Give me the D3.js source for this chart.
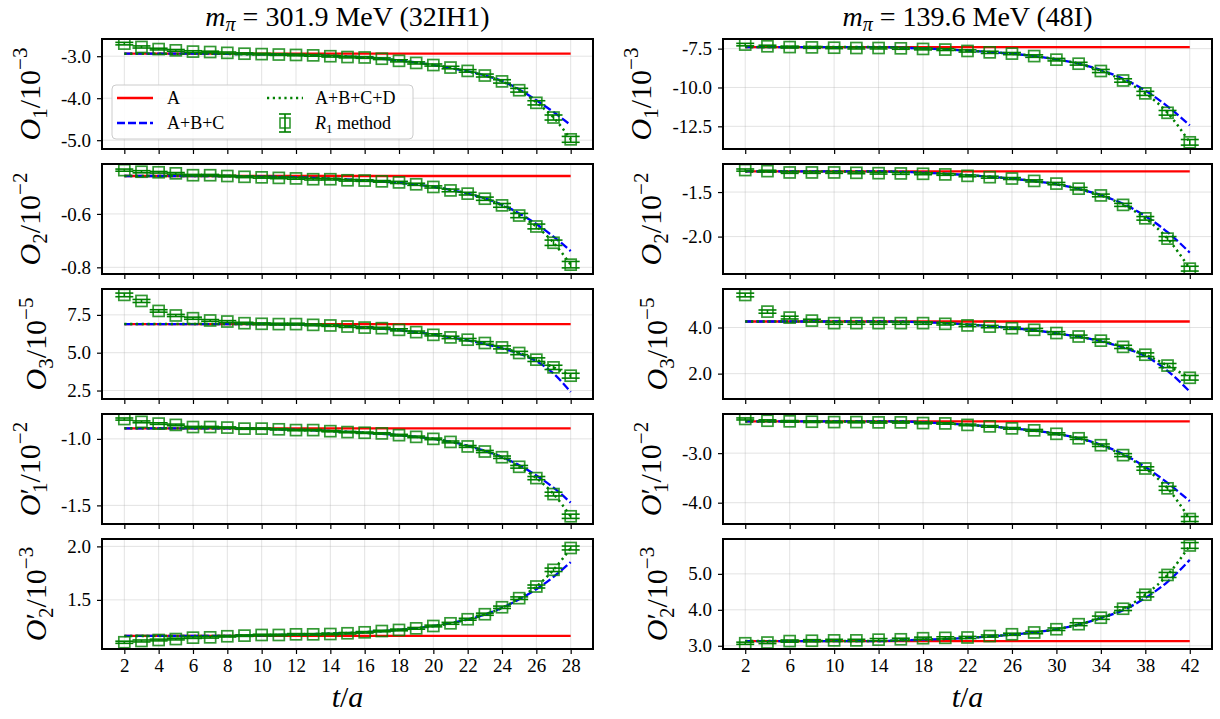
<!DOCTYPE html>
<html>
<head>
<meta charset="utf-8">
<script src="https://cdn.jsdelivr.net/npm/d3@7"></script>
<style>
  body { margin: 0; background: #fff; }
  svg { display: block; }
  text { font-family: "Liberation Serif", "Tinos", "Noto Serif", "DejaVu Serif", "FreeSerif", "Times New Roman", serif; fill: #000; }
</style>
</head>
<body>
<svg id="chart" width="1220" height="719"></svg>
<script>
// ---------- time slices ----------
const tLeft  = [2,3,4,5,6,7,8,9,10,11,12,13,14,15,16,17,18,19,20,21,22,23,24,25,26,27,28];
const tRight = [2,4,6,8,10,12,14,16,18,20,22,24,26,28,30,32,34,36,38,40,42];
const xTicksLeft  = [2,4,6,8,10,12,14,16,18,20,22,24,26,28];
const xTicksRight = [2,6,10,14,18,22,26,30,34,38,42];

// ---------- 32IH1 (m_pi = 301.9 MeV) ----------
const o1L      = [-2.70,-2.78,-2.83,-2.86,-2.89,-2.90,-2.92,-2.94,-2.95,-2.96,-2.97,-2.98,-3.00,-3.02,-3.03,-3.06,-3.11,-3.16,-3.21,-3.27,-3.35,-3.46,-3.60,-3.81,-4.11,-4.46,-4.98];
const o1LErr   = [0.03,0.025,0.02,0.02,0.02,0.02,0.02,0.02,0.02,0.02,0.02,0.02,0.02,0.02,0.02,0.02,0.025,0.025,0.025,0.03,0.03,0.035,0.04,0.045,0.05,0.06,0.07];
const o1LA     = -2.94;
const o1LABC   = [-2.94,-2.94,-2.94,-2.94,-2.94,-2.94,-2.945,-2.95,-2.955,-2.96,-2.97,-2.98,-2.99,-3.01,-3.03,-3.06,-3.10,-3.15,-3.21,-3.28,-3.36,-3.46,-3.59,-3.79,-4.05,-4.33,-4.64];
const o1LABCD  = [-2.94,-2.94,-2.94,-2.94,-2.94,-2.94,-2.945,-2.95,-2.955,-2.96,-2.97,-2.98,-2.99,-3.01,-3.03,-3.06,-3.10,-3.15,-3.21,-3.28,-3.36,-3.46,-3.60,-3.81,-4.10,-4.46,-4.98];

const o2L      = [-0.436,-0.442,-0.444,-0.448,-0.455,-0.455,-0.458,-0.461,-0.463,-0.465,-0.467,-0.470,-0.470,-0.474,-0.475,-0.478,-0.482,-0.489,-0.499,-0.512,-0.524,-0.543,-0.568,-0.606,-0.647,-0.708,-0.790];
const o2LErr   = [0.004,0.004,0.003,0.003,0.003,0.003,0.003,0.003,0.003,0.003,0.003,0.003,0.003,0.003,0.003,0.003,0.004,0.004,0.004,0.005,0.005,0.006,0.007,0.008,0.009,0.010,0.012];
const o2LA     = -0.458;
const o2LABC   = [-0.458,-0.458,-0.458,-0.458,-0.458,-0.458,-0.458,-0.459,-0.460,-0.461,-0.463,-0.465,-0.468,-0.471,-0.475,-0.479,-0.484,-0.490,-0.499,-0.510,-0.524,-0.542,-0.566,-0.598,-0.638,-0.685,-0.739];
const o2LABCD  = [-0.458,-0.458,-0.458,-0.458,-0.458,-0.458,-0.458,-0.459,-0.460,-0.461,-0.463,-0.465,-0.468,-0.471,-0.475,-0.479,-0.484,-0.490,-0.499,-0.510,-0.524,-0.542,-0.568,-0.606,-0.647,-0.708,-0.790];

const o3L      = [8.82,8.42,7.76,7.46,7.28,7.13,7.06,6.95,6.91,6.89,6.89,6.84,6.80,6.73,6.66,6.62,6.51,6.36,6.18,6.01,5.86,5.64,5.35,4.98,4.54,4.03,3.48];
const o3LErr   = [0.12,0.10,0.08,0.07,0.07,0.06,0.06,0.06,0.06,0.06,0.06,0.06,0.06,0.06,0.06,0.06,0.07,0.07,0.07,0.08,0.08,0.09,0.10,0.11,0.12,0.14,0.16];
const o3LA     = 6.89;
const o3LABC   = [6.89,6.89,6.89,6.89,6.89,6.89,6.89,6.89,6.89,6.88,6.87,6.84,6.80,6.74,6.67,6.59,6.49,6.36,6.20,6.02,5.81,5.57,5.29,4.93,4.44,3.62,2.41];
const o3LABCD  = [6.89,6.89,6.89,6.89,6.89,6.89,6.89,6.89,6.89,6.88,6.87,6.84,6.80,6.74,6.67,6.59,6.49,6.36,6.20,6.02,5.83,5.61,5.33,4.98,4.54,4.03,3.48];

const o1pL     = [-0.851,-0.872,-0.885,-0.895,-0.911,-0.911,-0.915,-0.923,-0.923,-0.928,-0.934,-0.934,-0.942,-0.949,-0.954,-0.959,-0.972,-0.985,-1.000,-1.023,-1.057,-1.095,-1.138,-1.210,-1.295,-1.415,-1.582];
const o1pLErr  = [0.008,0.007,0.006,0.006,0.005,0.005,0.005,0.005,0.005,0.005,0.005,0.005,0.005,0.005,0.005,0.005,0.006,0.006,0.006,0.007,0.007,0.008,0.009,0.010,0.012,0.014,0.016];
const o1pLA    = -0.921;
const o1pLABC  = [-0.921,-0.921,-0.921,-0.921,-0.921,-0.921,-0.921,-0.921,-0.924,-0.928,-0.932,-0.936,-0.941,-0.947,-0.954,-0.962,-0.972,-0.985,-1.000,-1.022,-1.052,-1.090,-1.137,-1.198,-1.275,-1.367,-1.480];
const o1pLABCD = [-0.921,-0.921,-0.921,-0.921,-0.921,-0.921,-0.921,-0.921,-0.924,-0.928,-0.932,-0.936,-0.941,-0.947,-0.954,-0.962,-0.972,-0.985,-1.000,-1.022,-1.052,-1.090,-1.137,-1.210,-1.295,-1.415,-1.582];

const o2pL     = [1.104,1.116,1.125,1.134,1.147,1.150,1.160,1.166,1.172,1.172,1.178,1.178,1.181,1.188,1.197,1.209,1.219,1.234,1.256,1.281,1.319,1.366,1.431,1.516,1.625,1.781,1.985];
const o2pLErr  = [0.010,0.009,0.008,0.008,0.007,0.007,0.007,0.007,0.007,0.007,0.007,0.007,0.007,0.007,0.007,0.007,0.008,0.008,0.008,0.009,0.009,0.010,0.011,0.012,0.014,0.016,0.018];
const o2pLA    = 1.163;
const o2pLABC  = [1.163,1.163,1.163,1.163,1.163,1.163,1.163,1.165,1.168,1.172,1.176,1.180,1.185,1.190,1.198,1.208,1.220,1.235,1.256,1.282,1.317,1.363,1.425,1.505,1.600,1.715,1.853];
const o2pLABCD = [1.163,1.163,1.163,1.163,1.163,1.163,1.163,1.165,1.168,1.172,1.176,1.180,1.185,1.190,1.198,1.208,1.220,1.235,1.256,1.282,1.317,1.363,1.425,1.516,1.625,1.781,1.985];

// ---------- 48I (m_pi = 139.6 MeV) ----------
const o1R      = [-7.24,-7.35,-7.40,-7.42,-7.44,-7.46,-7.46,-7.48,-7.52,-7.56,-7.65,-7.74,-7.82,-7.98,-8.21,-8.47,-8.94,-9.55,-10.38,-11.63,-13.53];
const o1RErr   = [0.08,0.07,0.06,0.06,0.06,0.06,0.06,0.06,0.06,0.06,0.07,0.07,0.07,0.08,0.08,0.09,0.10,0.11,0.13,0.15,0.18];
const o1RA     = -7.40;
const o1RABC   = [-7.40,-7.40,-7.40,-7.40,-7.40,-7.40,-7.40,-7.44,-7.49,-7.55,-7.63,-7.72,-7.83,-7.98,-8.19,-8.47,-8.88,-9.44,-10.20,-11.22,-12.44];
const o1RABCD  = [-7.40,-7.40,-7.40,-7.40,-7.40,-7.40,-7.40,-7.44,-7.49,-7.55,-7.63,-7.72,-7.83,-7.98,-8.19,-8.47,-8.92,-9.55,-10.38,-11.63,-13.53];

const o2R      = [-1.253,-1.265,-1.280,-1.280,-1.280,-1.284,-1.288,-1.291,-1.295,-1.302,-1.318,-1.333,-1.348,-1.375,-1.405,-1.462,-1.538,-1.644,-1.795,-2.023,-2.360];
const o2RErr   = [0.012,0.010,0.010,0.010,0.010,0.010,0.010,0.010,0.010,0.010,0.010,0.011,0.011,0.012,0.013,0.014,0.015,0.017,0.020,0.023,0.027];
const o2RA     = -1.268;
const o2RABC   = [-1.268,-1.268,-1.268,-1.268,-1.268,-1.268,-1.268,-1.274,-1.282,-1.294,-1.310,-1.328,-1.350,-1.377,-1.413,-1.465,-1.535,-1.632,-1.770,-1.950,-2.180];
const o2RABCD  = [-1.268,-1.268,-1.268,-1.268,-1.268,-1.268,-1.268,-1.274,-1.282,-1.294,-1.310,-1.328,-1.350,-1.377,-1.413,-1.465,-1.537,-1.644,-1.795,-2.023,-2.360];

const o3R      = [5.41,4.69,4.43,4.30,4.19,4.19,4.19,4.19,4.19,4.16,4.09,4.04,3.97,3.90,3.76,3.61,3.43,3.16,2.82,2.35,1.82];
const o3RErr   = [0.08,0.07,0.06,0.06,0.05,0.05,0.05,0.05,0.05,0.05,0.05,0.05,0.05,0.06,0.06,0.06,0.07,0.07,0.08,0.09,0.10];
const o3RA     = 4.26;
const o3RABC   = [4.26,4.26,4.26,4.26,4.26,4.26,4.26,4.25,4.23,4.19,4.13,4.06,3.98,3.88,3.75,3.60,3.40,3.13,2.76,2.12,1.22];
const o3RABCD  = [4.26,4.26,4.26,4.26,4.26,4.26,4.26,4.25,4.23,4.19,4.13,4.06,3.98,3.88,3.75,3.60,3.42,3.16,2.82,2.35,1.82];

const o1pR     = [-2.310,-2.346,-2.358,-2.366,-2.373,-2.373,-2.379,-2.379,-2.393,-2.400,-2.430,-2.460,-2.500,-2.540,-2.610,-2.700,-2.840,-3.040,-3.310,-3.710,-4.330];
const o1pRErr  = [0.020,0.018,0.016,0.015,0.015,0.015,0.015,0.015,0.015,0.015,0.016,0.016,0.017,0.018,0.020,0.022,0.025,0.030,0.035,0.040,0.050];
const o1pRA    = -2.36;
const o1pRABC  = [-2.36,-2.36,-2.36,-2.36,-2.36,-2.36,-2.36,-2.36,-2.38,-2.40,-2.43,-2.46,-2.50,-2.545,-2.61,-2.70,-2.83,-3.02,-3.28,-3.60,-3.97];
const o1pRABCD = [-2.36,-2.36,-2.36,-2.36,-2.36,-2.36,-2.36,-2.36,-2.38,-2.40,-2.43,-2.46,-2.50,-2.545,-2.61,-2.70,-2.84,-3.04,-3.31,-3.71,-4.33];

const o2pR     = [3.07,3.09,3.13,3.14,3.15,3.15,3.17,3.18,3.21,3.22,3.23,3.27,3.32,3.37,3.46,3.60,3.78,4.03,4.42,4.97,5.79];
const o2pRErr  = [0.03,0.03,0.03,0.03,0.03,0.03,0.03,0.03,0.03,0.03,0.03,0.03,0.03,0.035,0.035,0.04,0.045,0.05,0.06,0.07,0.08];
const o2pRA    = 3.13;
const o2pRABC  = [3.13,3.13,3.13,3.13,3.13,3.13,3.13,3.15,3.17,3.19,3.22,3.26,3.31,3.37,3.46,3.59,3.77,3.99,4.33,4.78,5.39];
const o2pRABCD = [3.13,3.13,3.13,3.13,3.13,3.13,3.13,3.15,3.17,3.19,3.22,3.26,3.31,3.37,3.46,3.59,3.78,4.03,4.42,4.97,5.79];

// ---------- axis limits and tick labels ----------
const yLimitsLeft  = [[-5.21,-2.59],[-0.825,-0.413],[1.94,9.21],[-1.64,-0.813],[1.041,2.069]];
const yLimitsRight = [[-13.96,-6.88],[-2.42,-1.185],[0.9,5.67],[-4.43,-2.21],[2.91,5.97]];
const yTicksLeft   = [[-5,-4,-3],[-0.8,-0.6],[2.5,5,7.5],[-1.5,-1.0],[1.5,2.0]];
const yTicksRight  = [[-12.5,-10,-7.5],[-2.0,-1.5],[2,4],[-4,-3],[3,4,5]];
const opNames   = [{prime:false,sub:"1"},{prime:false,sub:"2"},{prime:false,sub:"3"},{prime:true,sub:"1"},{prime:true,sub:"2"}];
const opScales  = ["\u22123","\u22122","\u22125","\u22122","\u22123"];
const ensembleTitles = [{mass:"301.9", name:"32IH1"},{mass:"139.6", name:"48I"}];
const legendLabels = ["A","A+B+C","A+B+C+D","method"];

// ---------- layout ----------
const SERIF = "'Liberation Serif', 'Tinos', 'Noto Serif', 'DejaVu Serif', 'FreeSerif', 'Times New Roman', serif";
const COLOR_A = "#ff0000", COLOR_ABC = "#0000ff", COLOR_DATA = "#008000";
const columns = [
  {x0:102, x1:593, xDomain:[0.7,29.3], xTicks:xTicksLeft, t:tLeft,
   series:[[o1L,o1LErr,o1LA,o1LABC,o1LABCD],[o2L,o2LErr,o2LA,o2LABC,o2LABCD],[o3L,o3LErr,o3LA,o3LABC,o3LABCD],
           [o1pL,o1pLErr,o1pLA,o1pLABC,o1pLABCD],[o2pL,o2pLErr,o2pLA,o2pLABC,o2pLABCD]],
   yLimits:yLimitsLeft, yTicks:yTicksLeft},
  {x0:723, x1:1212, xDomain:[0,44], xTicks:xTicksRight, t:tRight,
   series:[[o1R,o1RErr,o1RA,o1RABC,o1RABCD],[o2R,o2RErr,o2RA,o2RABC,o2RABCD],[o3R,o3RErr,o3RA,o3RABC,o3RABCD],
           [o1pR,o1pRErr,o1pRA,o1pRABC,o1pRABCD],[o2pR,o2pRErr,o2pRA,o2pRABC,o2pRABCD]],
   yLimits:yLimitsRight, yTicks:yTicksRight}
];
const ROW_TOP = 39, ROW_STEP = 125, ROW_H = 110;

const svg = d3.select("#chart").attr("font-family", SERIF);
svg.append("rect").attr("width",1220).attr("height",719).attr("fill","#fff");

const fmt = v => v.toFixed(1);

function styleAxis(g, labelSize) {
  g.attr("font-family", SERIF).attr("font-size", labelSize);
  g.select(".domain").remove();
  g.selectAll(".tick line").attr("stroke", "#000").attr("stroke-width", 1.2);
  g.selectAll(".tick text").attr("fill", "#000").style("font-family", SERIF);
}

function addYLabel(parent, name, scale) {
  const t = parent.append("text").attr("font-size", 30).attr("text-anchor", "middle");
  t.append("tspan").attr("font-style", "italic").text("O");
  if (name.prime) t.append("tspan").text("\u2032");
  t.append("tspan").attr("font-size", 21).attr("dy", 7).attr("dx", name.prime ? -5 : 0).text(name.sub);
  t.append("tspan").attr("dy", -7).text("/10");
  t.append("tspan").attr("font-size", 21).attr("dy", -13).text(scale);
  return t;
}

let clipId = 0;
columns.forEach((col, ci) => {
  const w = col.x1 - col.x0;
  const x = d3.scaleLinear().domain(col.xDomain).range([0, w]);

  // ensemble title
  const tt = ensembleTitles[ci];
  const title = svg.append("text")
    .attr("x", col.x0 + w / 2).attr("y", 26)
    .attr("text-anchor", "middle").attr("font-size", 28);
  title.append("tspan").attr("font-style", "italic").text("m");
  title.append("tspan").attr("font-size", 20).attr("dy", 5).attr("font-style", "italic").text("\u03c0");
  title.append("tspan").attr("dy", -5).text(" = " + tt.mass + " MeV (" + tt.name + ")");

  col.series.forEach((s, ri) => {
    const [vals, errs, aVal, abc, abcd] = s;
    const top = ROW_TOP + ri * ROW_STEP;
    const y = d3.scaleLinear().domain(col.yLimits[ri]).range([ROW_H, 0]);
    const g = svg.append("g").attr("transform", `translate(${col.x0},${top})`);

    // grid
    const grid = g.append("g").attr("stroke", "#b0b0b0").attr("stroke-opacity", 0.35).attr("stroke-width", 1);
    col.xTicks.forEach(v => grid.append("line").attr("x1", x(v)).attr("x2", x(v)).attr("y1", 0).attr("y2", ROW_H));
    col.yTicks[ri].forEach(v => grid.append("line").attr("x1", 0).attr("x2", w).attr("y1", y(v)).attr("y2", y(v)));

    // clip to the axes box
    const id = "clip" + (clipId++);
    g.append("clipPath").attr("id", id).append("rect").attr("width", w).attr("height", ROW_H);
    const plot = g.append("g").attr("clip-path", `url(#${id})`);

    const tt0 = col.t[0], tt1 = col.t[col.t.length - 1];
    // fit A: constant
    plot.append("line").attr("x1", x(tt0)).attr("x2", x(tt1)).attr("y1", y(aVal)).attr("y2", y(aVal))
      .attr("stroke", COLOR_A).attr("stroke-width", 2.3);

    const line = d3.line().x(d => x(d[0])).y(d => y(d[1])).curve(d3.curveMonotoneX);
    // fit A+B+C
    plot.append("path").attr("d", line(col.t.map((t, i) => [t, abc[i]])))
      .attr("fill", "none").attr("stroke", COLOR_ABC).attr("stroke-width", 2.3).attr("stroke-dasharray", "8,3");
    // fit A+B+C+D
    plot.append("path").attr("d", line(col.t.map((t, i) => [t, abcd[i]])))
      .attr("fill", "none").attr("stroke", COLOR_DATA).attr("stroke-width", 2.5).attr("stroke-dasharray", "2.2,3.6");

    // data points with error bars
    const pts = plot.selectAll("g.pt").data(col.t.map((t, i) => ({t, v: vals[i], e: errs[i]})))
      .join("g").attr("class", "pt");
    pts.append("line").attr("x1", d => x(d.t)).attr("x2", d => x(d.t))
      .attr("y1", d => y(d.v - d.e)).attr("y2", d => y(d.v + d.e))
      .attr("stroke", COLOR_DATA).attr("stroke-width", 1.6);
    [-1, 1].forEach(sg => {
      pts.append("line").attr("x1", d => x(d.t) - 9).attr("x2", d => x(d.t) + 9)
        .attr("y1", d => y(d.v + sg * d.e)).attr("y2", d => y(d.v + sg * d.e))
        .attr("stroke", COLOR_DATA).attr("stroke-width", 1.6);
    });
    pts.append("rect").attr("x", d => x(d.t) - 5.5).attr("y", d => y(d.v) - 5.5)
      .attr("width", 11).attr("height", 11)
      .attr("fill", "none").attr("stroke", COLOR_DATA).attr("stroke-opacity", 0.8).attr("stroke-width", 1.7);

    // axes
    const yAxisG = g.append("g")
      .call(d3.axisLeft(y).tickValues(col.yTicks[ri]).tickFormat(fmt).tickSize(5).tickPadding(6));
    styleAxis(yAxisG, 19);
    const last = ri === col.series.length - 1;
    const xAxisG = g.append("g").attr("transform", `translate(0,${ROW_H})`)
      .call(d3.axisBottom(x).tickValues(col.xTicks).tickFormat(last ? d3.format("d") : () => "").tickSize(5).tickPadding(5));
    styleAxis(xAxisG, 19);

    // frame
    g.append("rect").attr("width", w).attr("height", ROW_H)
      .attr("fill", "none").attr("stroke", "#000").attr("stroke-width", 2);

    // y label placed just left of the tick labels
    const axBox = yAxisG.node().getBBox();
    const lab = g.append("g");
    const txt = addYLabel(lab, opNames[ri], opScales[ri]);
    const tb = txt.node().getBBox();
    const descent = tb.y + tb.height;
    lab.attr("transform", `translate(${axBox.x - 9 - descent},${ROW_H / 2}) rotate(-90)`);

    // legend in the first panel
    if (ci === 0 && ri === 0) {
      const lg = g.append("g").attr("transform", "translate(10,46)");
      lg.append("rect").attr("width", 301).attr("height", 54).attr("rx", 4)
        .attr("fill", "#fff").attr("fill-opacity", 0.85).attr("stroke", "#cccccc").attr("stroke-width", 1);
      const r1 = 13, r2 = 38;
      lg.append("line").attr("x1", 5).attr("x2", 41).attr("y1", r1).attr("y2", r1)
        .attr("stroke", COLOR_A).attr("stroke-width", 2.3);
      lg.append("line").attr("x1", 5).attr("x2", 41).attr("y1", r2).attr("y2", r2)
        .attr("stroke", COLOR_ABC).attr("stroke-width", 2.3).attr("stroke-dasharray", "8,3");
      lg.append("line").attr("x1", 155).attr("x2", 191).attr("y1", r1).attr("y2", r1)
        .attr("stroke", COLOR_DATA).attr("stroke-width", 2.5).attr("stroke-dasharray", "2.2,3.6");
      const ex = 173;
      lg.append("line").attr("x1", ex).attr("x2", ex).attr("y1", r2 - 9).attr("y2", r2 + 9)
        .attr("stroke", COLOR_DATA).attr("stroke-width", 1.6);
      [-9, 9].forEach(o => lg.append("line").attr("x1", ex - 6).attr("x2", ex + 6).attr("y1", r2 + o).attr("y2", r2 + o)
        .attr("stroke", COLOR_DATA).attr("stroke-width", 1.6));
      lg.append("rect").attr("x", ex - 5).attr("y", r2 - 5).attr("width", 10).attr("height", 10)
        .attr("fill", "none").attr("stroke", COLOR_DATA).attr("stroke-opacity", 0.8).attr("stroke-width", 1.6);
      const ls = 18;
      lg.append("text").attr("x", 55).attr("y", r1 + 6).attr("font-size", ls).text(legendLabels[0]);
      lg.append("text").attr("x", 55).attr("y", r2 + 6).attr("font-size", ls).text(legendLabels[1]);
      lg.append("text").attr("x", 203).attr("y", r1 + 6).attr("font-size", ls).text(legendLabels[2]);
      const rt = lg.append("text").attr("x", 203).attr("y", r2 + 6).attr("font-size", ls);
      rt.append("tspan").attr("font-style", "italic").text("R");
      rt.append("tspan").attr("font-size", 13).attr("dy", 4).text("1");
      rt.append("tspan").attr("dy", -4).text(" " + legendLabels[3]);
    }
  });

  // x label
  const xl = svg.append("text").attr("x", col.x0 + w / 2).attr("y", 707)
    .attr("text-anchor", "middle").attr("font-size", 30);
  xl.append("tspan").attr("font-style", "italic").text("t");
  xl.append("tspan").text("/");
  xl.append("tspan").attr("font-style", "italic").text("a");
});
</script>
</body>
</html>
